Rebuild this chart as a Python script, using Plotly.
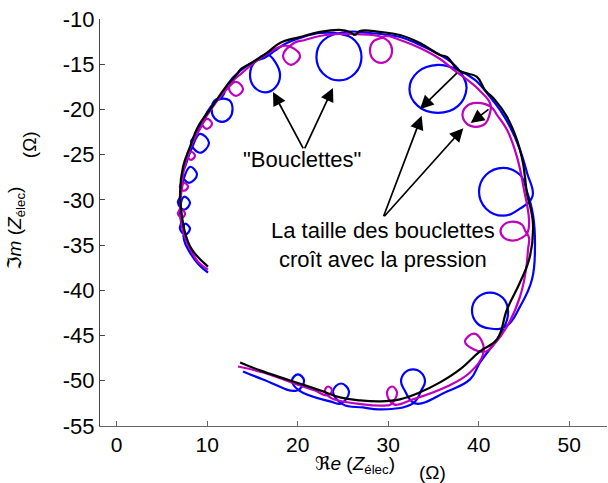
import plotly.graph_objects as go

# ---------------- data ----------------
black_x = [13.64, 15.83, 19.15, 22.46, 24.67, 26.88, 29.09, 31.30, 33.51, 35.72, 37.93, 40.14, 42.02,
           43.13, 44.56, 45.66, 45.99, 45.33, 45.11, 44.89, 44.23, 43.13, 41.80, 40.69, 39.81, 38.48,
           37.71, 36.49, 35.72, 33.51, 31.30, 29.09, 26.88, 26.33, 25.78, 24.67, 22.46, 20.25, 18.04,
           16.60, 15.06, 13.62, 13.40, 11.97, 10.53, 8.98, 8.10, 7.33, 7.00, 7.22, 7.55, 8.32, 10.09]
black_y = [-47.97, -48.85, -49.96, -51.06, -51.83, -52.16, -52.27, -52.05, -51.28, -50.18, -48.74, -46.75, -45.43,
           -42.12, -39.14, -36.27, -32.52, -29.21, -27.44, -25.89, -23.36, -20.82, -18.94, -17.84, -16.40, -15.96,
           -15.63, -14.19, -13.97, -12.65, -11.77, -11.43, -11.32, -11.77, -11.43, -11.21, -11.43, -11.99, -12.65,
           -13.75, -14.75, -15.63, -15.96, -17.62, -19.71, -21.92, -24.13, -26.34, -29.21, -31.85, -33.62, -35.50, -37.37]

# (x, y) points of the magenta record, loops included
magenta_pts = [
    (13.40, -48.42), (16.17, -49.08), (19.92, -50.41), (21.91, -51.07),
    (23.24, -51.62), (23.79, -51.07), (23.35, -50.63), (23.02, -51.07), (23.57, -51.84),
    (27.22, -52.61), (29.87, -52.72),
    (30.31, -52.61), (30.97, -51.29), (30.42, -50.63), (29.87, -51.29), (30.64, -52.61),
    (32.74, -52.05), (36.50, -50.63), (39.04, -49.08),
    (40.48, -47.09), (40.37, -45.66), (39.48, -44.78), (38.49, -45.66), (39.48, -46.54), (40.81, -46.76),
    (41.69, -45.99), (43.13, -44.00), (44.57, -40.69), (45.23, -37.71), (45.45, -35.50),
    (45.56, -34.18), (45.17, -33.46), (44.77, -32.72), (43.79, -32.41), (42.81, -32.72), (42.41, -33.46),
    (42.81, -34.20), (43.79, -34.51), (44.77, -34.20), (45.40, -33.60),
    (45.56, -32.19), (45.01, -28.88), (44.23, -25.24), (43.13, -22.25), (42.02, -20.60),
    (41.36, -19.72), (39.70, -19.28), (38.65, -19.66), (38.21, -20.60), (38.65, -21.54), (39.70, -21.92),
    (40.75, -21.54), (41.19, -20.60), (41.30, -19.40),
    (40.15, -17.95), (38.60, -16.62), (37.38, -15.74), (35.73, -14.42), (33.51, -13.20), (31.31, -12.32),
    (29.76, -11.88), (29.21, -12.10), (28.35, -12.50), (27.99, -13.48), (28.35, -14.46), (29.21, -14.86),
    (30.07, -14.46), (30.43, -13.48), (30.07, -12.50), (29.30, -12.00),
    (28.21, -11.77), (26.33, -11.66), (24.67, -11.66), (22.46, -11.88), (20.81, -12.32),
    (19.59, -12.65), (18.38, -14.08), (19.26, -15.08), (20.26, -14.08), (19.26, -13.09),
    (18.38, -12.98), (16.94, -13.64), (15.28, -14.75), (13.85, -15.96),
    (12.96, -16.73), (12.41, -17.73), (13.18, -18.50), (13.96, -17.73), (13.18, -16.96),
    (12.19, -17.73), (10.86, -19.38),
    (9.87, -20.82), (9.43, -21.59), (9.98, -22.14), (10.53, -21.59), (9.98, -21.04),
    (9.20, -22.14), (8.54, -23.36),
    (7.99, -24.57), (7.77, -25.12), (8.21, -25.57), (8.65, -25.12), (8.21, -24.68),
    (7.66, -25.79), (7.33, -27.22),
    (7.22, -28.00), (6.99, -28.55), (7.44, -28.99), (7.88, -28.55), (7.44, -28.11),
    (7.11, -29.43),
    (6.99, -30.98), (6.77, -31.53), (7.22, -31.97), (7.55, -31.53), (7.22, -31.09),
    (7.11, -32.19), (7.44, -33.85), (8.21, -35.61), (8.98, -36.83), (10.09, -37.71),
]

# (x, y) points of the blue record, loops included
blue_pts = [
    (13.96, -48.97), (16.17, -49.85),
    (19.92, -51.07), (20.70, -49.96), (20.03, -49.30), (19.37, -49.96), (20.14, -51.07),
    (23.57, -52.28),
    (24.79, -52.50), (25.67, -51.18), (24.79, -50.30), (23.90, -51.18), (25.01, -52.61),
    (27.22, -52.95), (29.10, -53.17),
    (32.74, -52.50), (33.68, -51.02), (34.07, -50.08), (33.68, -49.14), (32.74, -48.75), (31.80, -49.14),
    (31.42, -50.08), (31.80, -51.02), (32.96, -52.50),
    (36.50, -51.18), (39.04, -49.85), (40.15, -47.98),
    (42.69, -44.33), (43.24, -42.24), (42.66, -40.83), (41.25, -40.25), (39.84, -40.83), (39.26, -42.24),
    (39.84, -43.65), (41.25, -44.22), (43.02, -44.00),
    (44.57, -41.80), (45.89, -38.81), (46.22, -35.17),
    (46.00, -31.64), (45.34, -29.10), (44.56, -27.23), (42.69, -26.45), (40.82, -27.23), (40.04, -29.10),
    (40.82, -30.97), (42.69, -31.75), (44.56, -30.97), (45.95, -29.60),
    (45.34, -27.00), (44.57, -24.46), (43.46, -21.92), (42.35, -20.05), (41.25, -18.61), (39.59, -16.73),
    (37.71, -15.63), (35.50, -15.08), (33.27, -15.86), (32.35, -17.73), (33.27, -19.60), (35.50, -20.38),
    (37.73, -19.60), (38.65, -17.73), (38.20, -16.20), (37.00, -14.80),
    (35.73, -13.97), (33.51, -12.87), (31.31, -11.99), (27.99, -11.55),
    (25.23, -11.44), (22.80, -12.37), (22.07, -14.20), (22.80, -16.03), (24.56, -16.79), (26.32, -16.03),
    (27.05, -14.20), (26.32, -12.37), (24.56, -11.61),
    (22.46, -11.55), (20.26, -12.10), (18.60, -12.76),
    (17.50, -13.50), (16.39, -14.25), (15.22, -14.82), (14.73, -16.18), (15.22, -17.54), (16.39, -18.11),
    (17.56, -17.54), (18.05, -16.18), (17.56, -14.82), (16.60, -13.90),
    (15.28, -14.64), (13.62, -15.74), (12.30, -17.18),
    (11.64, -18.61), (10.82, -19.01), (10.48, -19.99), (10.82, -20.97), (11.64, -21.37), (12.46, -20.97),
    (12.80, -19.99), (12.46, -19.01), (11.30, -18.90),
    (10.31, -19.83), (9.54, -21.15),
    (8.87, -22.59), (8.21, -23.69), (9.20, -24.79), (10.20, -23.69), (9.20, -22.70),
    (8.32, -24.24),
    (7.55, -26.34), (7.22, -27.22), (7.99, -28.11), (8.87, -27.22), (8.10, -26.34),
    (7.22, -28.33),
    (6.99, -29.65), (6.77, -30.31), (7.44, -31.09), (8.10, -30.31), (7.44, -29.65),
    (6.99, -31.42),
    (7.11, -32.52), (6.99, -33.18), (7.55, -33.85), (8.10, -33.18), (7.55, -32.63),
    (7.44, -34.40), (8.10, -35.83), (8.98, -37.05), (10.09, -38.04),
]

x_tick_vals = [0, 10, 20, 30, 40, 50]
x_tick_text = ["0", "10", "20", "30", "40", "50"]
y_tick_vals = [-55, -50, -45, -40, -35, -30, -25, -20, -15, -10]
y_tick_text = ["-55", "-50", "-45", "-40", "-35", "-30", "-25", "-20", "-15", "-10"]

label_bouclettes = '"Bouclettes"'
label_taille = "La taille des bouclettes<br>croît avec la pression"
# arrows: (tail_x, tail_y, tip_x, tip_y)
arrows = [
    (20.70, -24.46, 17.27, -18.06),
    (20.70, -24.46, 23.90, -17.62),
    (29.43, -31.97, 33.70, -20.71),
    (29.43, -31.97, 38.30, -22.07),
    (37.75, -15.82, 33.51, -19.97),
    (41.25, -19.86, 39.12, -21.51),
]

FONT = "Liberation Sans, Arial, Helvetica, DejaVu Sans, sans-serif"

magenta_x = [p[0] for p in magenta_pts]
magenta_y = [p[1] for p in magenta_pts]
blue_x = [p[0] for p in blue_pts]
blue_y = [p[1] for p in blue_pts]

fig = go.Figure()
for xs, ys, col in [(blue_x, blue_y, "#0000FF"), (magenta_x, magenta_y, "#BF00BF"), (black_x, black_y, "#000000")]:
    fig.add_trace(go.Scatter(x=xs, y=ys, mode="lines",
                             line=dict(color=col, width=2.2, shape="spline", smoothing=1.2),
                             hoverinfo="skip", showlegend=False))

ann = []
ann.append(dict(x=20.48, y=-25.57, xref="x", yref="y", text=label_bouclettes, showarrow=False,
                font=dict(size=22, color="black", family=FONT)))
ann.append(dict(x=29.43, y=-34.95, xref="x", yref="y", text=label_taille, showarrow=False,
                font=dict(size=22, color="black", family=FONT), align="center"))
for tx, ty, hx, hy in arrows:
    ann.append(dict(x=hx, y=hy, ax=tx, ay=ty, xref="x", yref="y", axref="x", ayref="y", text="",
                    showarrow=True, arrowhead=2, arrowsize=1.6, arrowwidth=1.7, arrowcolor="black",
                    standoff=0, startstandoff=0))
# axis titles
ann.append(dict(x=0.503, y=-0.096, xref="paper", yref="paper",
                text="ℜ<i>e</i> (<i>Z</i><sub>élec</sub>)", showarrow=False, borderpad=0,
                font=dict(size=19, color="black", family=FONT), xanchor="center", yanchor="middle"))
ann.append(dict(x=0.656, y=-0.115, xref="paper", yref="paper", text="(Ω)", showarrow=False, borderpad=0,
                font=dict(size=19, color="black", family=FONT), xanchor="center", yanchor="middle"))
ann.append(dict(x=-0.166, y=0.487, xref="paper", yref="paper",
                text="ℑ<i>m</i> (<i>Z</i><sub>élec</sub>)", showarrow=False, textangle=-90, borderpad=0,
                font=dict(size=19, color="black", family=FONT), xanchor="center", yanchor="middle"))
ann.append(dict(x=-0.140, y=0.690, xref="paper", yref="paper", text="(Ω)", showarrow=False, textangle=-90,
                borderpad=0, font=dict(size=19, color="black", family=FONT), xanchor="center", yanchor="middle"))

fig.update_layout(
    width=608, height=483,
    margin=dict(l=100, r=1, t=19, b=57, autoexpand=False),
    paper_bgcolor="white", plot_bgcolor="white",
    showlegend=False,
    annotations=ann,
    xaxis=dict(range=[-1.845, 54.18], tickvals=x_tick_vals, ticktext=x_tick_text, automargin=False,
               showline=True, linecolor="#666666", linewidth=1, ticks="inside", ticklen=5,
               tickcolor="#666666", showgrid=False, zeroline=False,
               tickfont=dict(size=21, color="black", family=FONT)),
    yaxis=dict(range=[-55, -10], tickvals=y_tick_vals, ticktext=y_tick_text, automargin=False,
               showline=True, linecolor="#444444", linewidth=1, ticks="inside", ticklen=5,
               tickcolor="#444444", showgrid=False, zeroline=False,
               tickfont=dict(size=22, color="black", family=FONT)),
)

fig.write_html("out.html", config={"displayModeBar": False},
               post_script="document.body.style.margin='0px';document.body.style.overflow='hidden';")
